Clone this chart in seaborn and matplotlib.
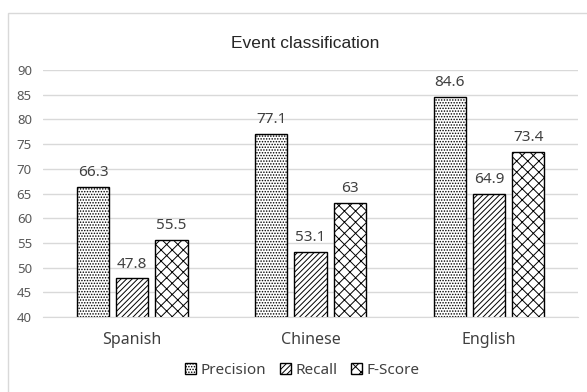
import matplotlib
matplotlib.use("Agg")
import matplotlib.pyplot as plt
import numpy as np
import pandas as pd
import seaborn as sns
from matplotlib.patches import Rectangle

sns.set_style('white')
plt.rcParams['font.family'] = ['Liberation Sans', 'DejaVu Sans']
plt.rcParams['hatch.linewidth'] = 0.7

languages = ["Spanish", "Chinese", "English"]
metrics = ["Precision", "Recall", "F-Score"]
precision = [66.3, 77.1, 84.6]
recall = [47.8, 53.1, 64.9]
fscore = [55.5, 63, 73.4]
value_labels = [["66.3", "77.1", "84.6"], ["47.8", "53.1", "64.9"], ["55.5", "63", "73.4"]]

df = pd.DataFrame({
    "language": languages * 3,
    "metric": [m for m in metrics for _ in languages],
    "value": precision + recall + fscore,
})

fig = plt.figure(figsize=(5.87, 3.92), dpi=100)
ax = fig.add_axes([0.0733, 0.1913, 0.9114, 0.6301])

sns.barplot(data=df, x="language", y="value", hue="metric", order=languages,
            hue_order=metrics, palette=["white"] * 3, edgecolor="black",
            linewidth=1.0, width=0.66, gap=0.18, ax=ax, legend=False)

hatches = ["......", "//////", "xxx"]
lab_font = ["Noto Sans", "DejaVu Sans"]
for cont, h, labs in zip(ax.containers, hatches, value_labels):
    for bar in cont:
        bar.set_hatch(h)
    ax.bar_label(cont, labels=labs, padding=5, fontsize=11, color="#404040",
                 family=lab_font)

ax.set_ylim(40, 90)
ax.set_xlim(-0.5, 2.5)
ax.set_yticks(range(40, 91, 5))
ax.yaxis.grid(True, color="#d9d9d9", linewidth=1)
ax.set_axisbelow(True)
for s in ax.spines.values():
    s.set_visible(False)
ax.spines['bottom'].set_visible(True)
ax.spines['bottom'].set_color("#d9d9d9")
ax.tick_params(axis='y', length=0, pad=8, labelsize=9.5, labelcolor="#595959")
ax.tick_params(axis='x', length=0, pad=11, labelsize=11.5, labelcolor="#404040")
for t in ax.get_yticklabels() + ax.get_xticklabels():
    t.set_family(lab_font)
ax.set_xlabel("")
ax.set_ylabel("")

fig.text(0.52, 0.888, "Event classification", ha="center", va="center",
         fontsize=12.5, color="#262626")

handles = [Rectangle((0, 0), 1, 1, facecolor="white", edgecolor="black", hatch=h)
           for h in hatches]
fig.legend(handles, metrics, loc="center", bbox_to_anchor=(0.515, 0.055), ncol=3,
           frameon=False, handlelength=0.7, handleheight=0.7, handletextpad=0.3,
           columnspacing=0.9, prop={"family": lab_font, "size": 11},
           labelcolor="#404040")

fig.patches.append(Rectangle((8 / 587, -0.1), 1.2, 0.1 + (392 - 13) / 392,
                             transform=fig.transFigure, fill=False,
                             edgecolor="#d9d9d9", linewidth=1))

fig.savefig("out.png", dpi=100)
